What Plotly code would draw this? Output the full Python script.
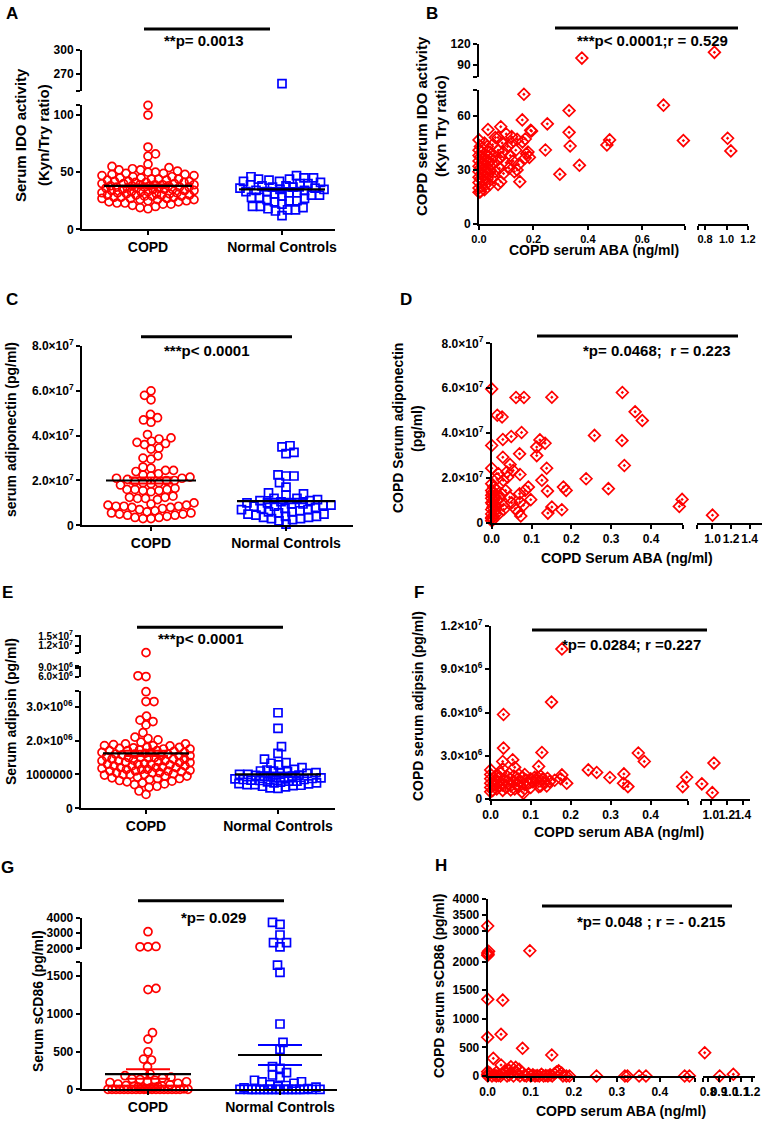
import numpy as np
import plotly.graph_objects as go

W, H = 765, 1122
FONT = "Arial, 'Liberation Sans', sans-serif"
RED, BLUE = "#ff0000", "#0000ff"

# ---------------- values ----------------
groups = ["COPD", "Normal Controls"]

# A: serum IDO activity (Kyn/Try ratio)
ido_copd = [108.5, 100, 72, 66, 64, 57, 55, 54, 53, 52, 52, 51, 50, 50, 49, 49, 48, 48, 47, 47,
            46, 46, 45, 45, 44, 44, 44, 43, 43, 42, 42, 42, 41, 41, 41, 40, 40, 40, 39, 39,
            39, 39, 38, 38, 38, 38, 37, 37, 37, 37, 36, 36, 36, 36, 35, 35, 35, 35, 34, 34,
            34, 33, 33, 33, 32, 32, 32, 31, 31, 31, 30, 30, 30, 30, 29, 29, 29, 28, 28, 28,
            27, 27, 27, 26, 26, 26, 25, 25, 24, 24, 23, 23, 22, 22, 21, 20, 19, 18]
ido_nc = [258, 47, 46, 45, 45, 44, 44, 43, 42, 42, 41, 40, 40, 39, 38, 38, 37, 37, 36, 36,
          35, 35, 34, 34, 33, 33, 32, 32, 31, 30, 30, 29, 28, 28, 27, 26, 25, 25, 24, 22,
          20, 20, 19, 18, 17, 17, 16, 12]
ido_mean = [38, 35]
ido_sem = [1.2, 1.2]

# B: COPD serum ABA (ng/ml) vs IDO activity
b_points = [
    (0.378, 100), (0.887, 108), (0.165, 72), (0.678, 66), (0.331, 63), (0.159, 57.8), (0.251, 55.6),
    (0.08, 54), (0.033, 52.4), (0.193, 51.6), (0.331, 50.9), (0.751, 46.3), (1.01, 47.6), (1.04, 40.6),
    (0.47, 43.9), (0.48, 46.7), (0.335, 43.3), (0.244, 41.1), (0.369, 32.6), (0.297, 27.6), (0.15, 23.5),
    (0.17, 47.2), (0.16, 45.6), (0.17, 36.7), (0.175, 39), (0.1, 50), (0.12, 48.5), (0.07, 48), (0.0, 46.7),
    (0.0, 17.6), (0.08, 23.5), (0.14, 30),
    (0.0, 20), (0.0, 23), (0.0, 26), (0.0, 29), (0.0, 32), (0.0, 35), (0.0, 38), (0.0, 41),
    (0.005, 18), (0.005, 25), (0.005, 31), (0.005, 37), (0.005, 43), (0.01, 21), (0.01, 28), (0.01, 34),
    (0.01, 40), (0.015, 24), (0.015, 30), (0.015, 36), (0.02, 19), (0.02, 27), (0.02, 33), (0.02, 39),
    (0.02, 45), (0.025, 22), (0.025, 29), (0.025, 35), (0.03, 25), (0.03, 31), (0.03, 38), (0.03, 43),
    (0.035, 28), (0.035, 34), (0.04, 22), (0.04, 30), (0.04, 40), (0.045, 36), (0.05, 26), (0.05, 33),
    (0.05, 44), (0.055, 38), (0.06, 29), (0.06, 48), (0.065, 35), (0.07, 22), (0.07, 41), (0.075, 31),
    (0.08, 37), (0.085, 45), (0.09, 28), (0.09, 40), (0.1, 34), (0.105, 43), (0.11, 31), (0.115, 38),
    (0.12, 45), (0.125, 35), (0.13, 29), (0.135, 41), (0.14, 47), (0.145, 33), (0.18, 40), (0.185, 37),
    (0.19, 52),
]

# C: serum adiponectin (x1e7 pg/ml)
adipo_copd = [6.0, 5.8, 5.6, 4.95, 4.8, 4.7, 4.6, 4.05, 3.9, 3.85, 3.75, 3.7, 3.65, 3.6, 3.45, 3.4,
              3.1, 3.0, 2.95, 2.6, 2.55, 2.45, 2.45, 2.4, 2.3, 2.25, 2.2, 2.15, 2.1, 2.1, 2.05, 2.0,
              2.0, 1.95, 1.9, 1.9, 1.85, 1.8, 1.65, 1.6, 1.6, 1.6, 1.55, 1.55, 1.5, 1.3, 1.25, 1.25,
              1.2, 1.2, 1.15, 1.0, 0.95, 0.9, 0.9, 0.85, 0.85, 0.85, 0.8, 0.8, 0.75, 0.7, 0.65, 0.6,
              0.55, 0.55, 0.5, 0.5, 0.45, 0.45, 0.4, 0.35, 0.35, 0.3, 0.3]
adipo_nc = [3.55, 3.5, 3.25, 3.2, 2.25, 2.2, 2.2, 1.9, 1.7, 1.45, 1.4, 1.35, 1.2, 1.2, 1.15, 1.1,
            1.1, 1.05, 1.0, 1.0, 0.95, 0.95, 0.9, 0.9, 0.85, 0.85, 0.8, 0.75, 0.75, 0.7, 0.7, 0.65,
            0.6, 0.6, 0.55, 0.5, 0.5, 0.45, 0.4, 0.4, 0.35, 0.35, 0.3, 0.3, 0.25, 0.2, 0.05]
adipo_mean = [2.0, 1.08]
adipo_sem = [0.13, 0.1]

# D: COPD serum ABA (ng/ml) vs adiponectin (x1e7 pg/ml)
d_points = [
    (0.0, 5.97), (0.061, 5.59), (0.081, 5.59), (0.151, 5.6), (0.328, 5.81), (0.36, 4.95), (0.378, 4.56),
    (0.014, 4.8), (0.026, 4.72), (0.0, 3.45), (0.028, 3.72), (0.049, 3.85), (0.075, 4.03), (0.121, 3.7),
    (0.113, 3.38), (0.134, 3.55), (0.07, 3.08), (0.028, 2.93), (0.113, 3.0), (0.258, 3.9), (0.327, 3.67),
    (0.333, 2.56), (0.046, 2.6), (0.138, 2.44), (0.0, 2.44), (0.017, 2.19), (0.038, 2.27), (0.054, 2.34),
    (0.071, 2.16), (0.0, 1.75), (0.013, 1.97), (0.029, 1.9), (0.04, 2.04), (0.126, 1.9), (0.237, 1.97),
    (0.293, 1.53), (0.18, 1.6), (0.187, 1.45), (0.14, 1.42), (0.092, 1.6), (0.084, 1.45), (0.07, 1.3),
    (0.025, 1.3), (0.0, 1.23), (0.098, 1.04), (0.071, 0.93), (0.029, 0.79), (0.059, 0.64), (0.08, 0.79),
    (0.067, 0.49), (0.073, 0.31), (0.141, 0.44), (0.151, 0.71), (0.176, 0.59), (0.471, 0.74),
    (0.478, 1.05), (1.0, 0.35),
    (0.0, 0.1), (0.0, 0.2), (0.004, 0.3), (0.0, 0.4), (0.006, 0.5), (0.0, 0.6), (0.003, 0.7),
    (0.007, 0.8), (0.0, 0.9), (0.004, 1.0), (0.0, 1.1), (0.006, 1.2), (0.002, 1.35), (0.0, 1.45),
    (0.008, 0.55), (0.002, 0.85), (0.009, 1.15), (0.01, 0.4), (0.012, 0.75), (0.005, 1.6), (0.01, 1.5),
    (0.02, 1.1), (0.035, 1.45), (0.045, 1.15), (0.02, 0.45), (0.03, 0.6), (0.05, 0.9), (0.0, 0.25),
    (0.003, 0.15),
]

# E: serum adipsin (x1e6 pg/ml)
adipsin_copd = [10.0, 6.3, 6.05, 3.44, 3.15, 3.15, 2.72, 2.6, 2.56, 2.46, 2.23, 2.1, 2.06, 2.02, 1.95,
                1.9, 1.88, 1.85, 1.84, 1.8, 1.78, 1.77, 1.75, 1.72, 1.7, 1.7, 1.68, 1.65, 1.65, 1.62,
                1.6, 1.6, 1.58, 1.55, 1.55, 1.52, 1.5, 1.5, 1.48, 1.45, 1.45, 1.42, 1.4, 1.4, 1.38,
                1.35, 1.35, 1.32, 1.3, 1.3, 1.28, 1.25, 1.25, 1.22, 1.2, 1.2, 1.18, 1.15, 1.15, 1.12,
                1.1, 1.1, 1.08, 1.05, 1.05, 1.02, 1.0, 1.0, 0.98, 0.95, 0.95, 0.92, 0.9, 0.88, 0.88,
                0.85, 0.82, 0.8, 0.78, 0.75, 0.72, 0.7, 0.65, 0.62, 0.51, 0.41,
                1.9, 1.85, 1.8, 1.75, 1.7, 1.65, 1.6, 1.55, 1.5, 1.45, 1.4, 1.35, 1.3, 1.25, 1.2,
                1.15, 1.1, 1.05, 1.0]
adipsin_nc = [2.82, 2.36, 1.82, 1.62, 1.45, 1.35, 1.33, 1.28, 1.2, 1.15, 1.13, 1.1, 1.1, 1.08, 1.05,
              1.05, 1.03, 1.0, 1.0, 0.98, 0.97, 0.95, 0.95, 0.93, 0.92, 0.9, 0.9, 0.88, 0.87, 0.85,
              0.85, 0.83, 0.82, 0.8, 0.8, 0.78, 0.77, 0.75, 0.75, 0.73, 0.72, 0.7, 0.7, 0.68, 0.67,
              0.65, 0.63, 0.6, 0.59]
adipsin_mean = [1.62, 1.0]
adipsin_sem = [0.08, 0.06]

# F: COPD serum ABA (ng/ml) vs adipsin (x1e6 pg/ml)
f_points = [
    (0.178, 10.4), (0.152, 6.72), (0.032, 5.86), (0.032, 3.53), (0.03, 2.6), (0.055, 2.72), (0.128, 3.23),
    (0.12, 2.26), (0.369, 3.19), (0.384, 2.6), (0.244, 2.02), (0.265, 1.84), (0.298, 1.49), (0.333, 1.74),
    (0.332, 1.09), (0.343, 0.86), (0.0, 2.02), (0.178, 1.67), (0.19, 1.09), (0.12, 0.86), (0.078, 0.51),
    (0.05, 0.63), (0.147, 1.21), (0.142, 1.44), (0.117, 1.51), (0.49, 1.51), (0.48, 0.86), (0.889, 1.05),
    (1.02, 0.44), (1.04, 2.49),
    (0.0, 0.5), (0.0, 0.8), (0.0, 1.1), (0.0, 1.4), (0.0, 1.7), (0.005, 0.6), (0.008, 1.0), (0.01, 1.3),
    (0.012, 1.6), (0.015, 0.7), (0.018, 1.2), (0.02, 0.9), (0.022, 1.5), (0.025, 1.8), (0.028, 1.0),
    (0.03, 0.6), (0.035, 1.3), (0.038, 0.8), (0.04, 1.6), (0.045, 1.1), (0.048, 1.4), (0.05, 0.9),
    (0.055, 1.2), (0.058, 1.6), (0.06, 0.7), (0.065, 1.0), (0.068, 1.4), (0.07, 1.7), (0.072, 0.9),
    (0.075, 1.2), (0.08, 1.5), (0.082, 0.4), (0.085, 1.0), (0.09, 1.3), (0.095, 1.1), (0.1, 1.4),
    (0.105, 1.2), (0.11, 1.5), (0.115, 1.3), (0.125, 1.6), (0.13, 1.4), (0.135, 1.1), (0.14, 0.9),
    (0.125, 0.9), (0.06, 2.2), (0.03, 2.1), (0.085, 1.7), (0.1, 0.8), (0.16, 1.3), (0.175, 1.4),
]

# G: serum sCD86 (pg/ml)
cd86_copd = [3085, 2100, 2100, 2120, 1336, 1320, 749, 665, 497, 400, 388, 300, 205, 180, 160, 150,
             140, 130, 120, 110, 100, 90, 80, 70, 60, 50, 45, 40, 35, 30, 25, 20, 15, 10, 5,
             0, 0, 0, 0, 0, 0, 0, 0, 0, 0, 0, 0, 0, 0, 0, 0, 0, 0, 0, 0]
cd86_nc = [3700, 3570, 2870, 2370, 2370, 2100, 1644, 1548, 864, 622, 529, 300, 278, 220, 189, 159,
           120, 100, 97, 80, 60, 50, 40, 30, 20, 10,
           0, 0, 0, 0, 0, 0, 0, 0, 0, 0, 0, 0, 0, 0, 0, 0, 0, 0]
cd86_mean = [202, 454]
cd86_sem = [63, 132]

# H: COPD serum ABA (ng/ml) vs sCD86 (pg/ml)
h_points = [
    (0.0, 3150), (0.098, 2190), (0.0, 2110), (0.0, 2150), (0.002, 2180), (0.001, 2130), (0.0, 1341),
    (0.035, 1326), (0.0, 677), (0.031, 729), (0.081, 484), (0.149, 367), (0.013, 309), (0.031, 192),
    (0.054, 163), (0.073, 117), (0.0, 76), (0.253, 0), (0.319, 0), (0.325, 0), (0.352, 0), (0.368, 0),
    (0.458, 0), (0.469, 0), (0.16, 70), (0.172, 50), (0.183, 0), (0.77, 407), (0.906, 0), (1.03, 30),
    (0.0, 0), (0.0, 30), (0.005, 50), (0.01, 0), (0.015, 20), (0.02, 60), (0.025, 10), (0.03, 0),
    (0.035, 40), (0.04, 90), (0.045, 0), (0.05, 20), (0.055, 50), (0.06, 0), (0.065, 80), (0.07, 30),
    (0.075, 0), (0.08, 60), (0.085, 10), (0.09, 0), (0.095, 40), (0.1, 0), (0.105, 20), (0.11, 0),
    (0.115, 10), (0.12, 0), (0.125, 30), (0.13, 0), (0.135, 10), (0.14, 0), (0.145, 20), (0.15, 0),
    (0.155, 40), (0.165, 90), (0.175, 0), (0.19, 0), (0.02, 0), (0.05, 100), (0.065, 150),
]

# ---------------- figure scaffolding ----------------
layout = dict(width=W, height=H, margin=dict(l=0, r=0, t=0, b=0, autoexpand=False),
              paper_bgcolor="white", plot_bgcolor="rgba(0,0,0,0)", showlegend=False,
              font=dict(family=FONT, size=12, color="black"), annotations=[], shapes=[])
traces = []
count = {"x": 0, "y": 0}


def new(kind):
    count[kind] += 1
    return kind if count[kind] == 1 else f"{kind}{count[kind]}"


def akey(name):
    return name[0] + "axis" + name[1:]


def axis_style(vals, text, ends, fs):
    return dict(showline=True, linecolor="black", linewidth=2, ticks="outside", ticklen=4,
                tickwidth=2, tickcolor="black", showgrid=False, zeroline=False, fixedrange=True,
                automargin=False, tickmode="array", tickangle=0, tickvals=list(vals) + list(ends),
                ticktext=list(text) + [""] * len(ends),
                tickfont=dict(family=FONT, size=fs, color="black", weight="bold"))


def add_x(name, l, r, rng, anchor, vals, text, ends=(), fs=12):
    ax = axis_style(vals, text, ends, fs)
    ax.update(domain=[l / W, r / W], range=rng, anchor=anchor)
    layout[akey(name)] = ax


def add_y(name, b, t, rng, anchor, vals, text, ends=(), fs=12):
    ax = axis_style(vals, text, ends, fs)
    ax.update(domain=[1 - b / H, 1 - t / H], range=rng, anchor=anchor)
    layout[akey(name)] = ax


def swarm(vals, ppu, diam, half):
    # place sorted values side by side, closest free slot to the centre (pixel space)
    v = np.sort(np.asarray(vals, float))
    y = v * ppu
    cand = np.arange(-half, half + 1e-9, 0.5)
    xs = []
    for i, yi in enumerate(y):
        if xs:
            d = np.hypot(cand[:, None] - np.array(xs)[None, :], yi - y[:len(xs)][None, :]).min(axis=1)
        else:
            d = np.full(cand.shape, np.inf)
        bias = np.abs(cand) + (0.01 if i % 2 else -0.01) * cand
        free = d >= diam
        if free.any():
            j = int(np.argmin(np.where(free, bias, np.inf)))
        else:
            j = int(np.argmax(d - 0.01 * np.abs(cand)))
        xs.append(cand[j])
    return v, np.array(xs)


def segment_index(v, segs):
    idx = np.full(len(v), -1)
    for k, s in enumerate(segs):
        lo, hi = s["rng"]
        m = (idx < 0) & (v >= lo) & (v <= hi)
        idx[m] = k
    return idx


def dot_panel(L, R, c0, c1, ysegs, series, stats, size=8):
    xn = new("x")
    yns = [new("y") for _ in ysegs]
    ppx = c1 - c0
    add_x(xn, L, R, [(L - c0) / ppx, (R - c0) / ppx], yns[0], [0, 1], groups, fs=14)
    for yn, s in zip(yns, ysegs):
        add_y(yn, s["b"], s["t"], s["rng"], xn, s["vals"], s["text"], s.get("ends", ()), s.get("fs", 12))
    for g, (vals, color, sym, half) in enumerate(series):
        vals = np.asarray(vals, float)
        idx = segment_index(vals, ysegs)
        for k, (yn, s) in enumerate(zip(yns, ysegs)):
            sub = vals[idx == k]
            if not len(sub):
                continue
            ppu = (s["b"] - s["t"]) / (s["rng"][1] - s["rng"][0])
            v, off = swarm(sub, ppu, size * 0.95, half)
            traces.append(go.Scatter(
                x=g + off / ppx, y=v, xaxis=xn, yaxis=yn, mode="markers", cliponaxis=False,
                hoverinfo="skip",
                marker=dict(symbol=sym, size=size, color=color, line=dict(color=color, width=1.7))))
    for g, (mean, sem, hw, color) in enumerate(stats):
        traces.append(go.Scatter(
            x=[g], y=[mean], xaxis=xn, yaxis=yns[0], mode="markers", cliponaxis=False,
            hoverinfo="skip", marker=dict(size=2, opacity=0),
            error_y=dict(type="data", array=[sem], color=color, thickness=2, width=22)))
        traces.append(go.Scatter(
            x=[g - hw / ppx, g + hw / ppx], y=[mean, mean], xaxis=xn, yaxis=yns[0], mode="lines",
            cliponaxis=False, hoverinfo="skip", line=dict(color="black", width=2.2)))


def xy_panel(xsegs, ysegs, pts, size=9, fs=12):
    xns = [new("x") for _ in xsegs]
    yns = [new("y") for _ in ysegs]
    for xn, s in zip(xns, xsegs):
        add_x(xn, s["l"], s["r"], s["rng"], yns[0], s["vals"], s["text"], s.get("ends", ()), fs)
    for yn, s in zip(yns, ysegs):
        add_y(yn, s["b"], s["t"], s["rng"], xns[0], s["vals"], s["text"], s.get("ends", ()))
    xs = np.array([p[0] for p in pts], float)
    ys = np.array([p[1] for p in pts], float)
    ix, iy = segment_index(xs, xsegs), segment_index(ys, ysegs)
    for i, xn in enumerate(xns):
        for j, yn in enumerate(yns):
            m = (ix == i) & (iy == j)
            if m.any():
                traces.append(go.Scatter(
                    x=xs[m], y=ys[m], xaxis=xn, yaxis=yn, mode="markers", cliponaxis=False,
                    hoverinfo="skip",
                    marker=dict(symbol="diamond-open-dot", size=size, color=RED,
                                line=dict(color=RED, width=1.7))))


def text(s, x, y, size=14, angle=0):
    layout["annotations"].append(dict(
        text=s, x=x / W, y=1 - y / H, xref="paper", yref="paper", showarrow=False,
        textangle=angle, xanchor="center", yanchor="middle",
        font=dict(family=FONT, size=size, color="black", weight="bold")))


def sig(y, x0, x1, label, tx, ty):
    layout["shapes"].append(dict(type="line", xref="paper", yref="paper", x0=x0 / W, x1=x1 / W,
                                 y0=1 - y / H, y1=1 - y / H, line=dict(color="black", width=3)))
    text(label, tx, ty, 15)


def sci(m, e):
    return f"{m}×10<sup>{e}</sup>"


# ---------------- A ----------------
dot_panel(82, 335, 148, 282,
          [dict(b=229.3, t=105, rng=[0, 108.8], vals=[0, 50, 100], text=["0", "50", "100"], ends=[108.8]),
           dict(b=90.7, t=50, rng=[249.1, 300], vals=[270, 300], text=["270", "300"], ends=[249.1])],
          [(ido_copd, RED, "circle-open", 46), (ido_nc, BLUE, "square-open", 42)],
          [(ido_mean[0], ido_sem[0], 44, RED), (ido_mean[1], ido_sem[1], 43, BLUE)])

# ---------------- B ----------------
xy_panel([dict(l=479, r=685, rng=[0, 0.757], vals=[0, 0.2, 0.4, 0.6], text=["0.0", "0.2", "0.4", "0.6"], ends=[0.757]),
          dict(l=698.3, r=748, rng=[0.737, 1.2], vals=[0.8, 1.0, 1.2], text=["0.8", "1.0", "1.2"], ends=[0.737])],
         [dict(b=224, t=90, rng=[0, 74.4], vals=[0, 30, 60], text=["0", "30", "60"], ends=[74.4]),
          dict(b=77.3, t=43.7, rng=[73.3, 120], vals=[90, 120], text=["90", "120"], ends=[73.3])],
         b_points, fs=11)

# ---------------- C ----------------
adipo_ticks = [0, 2e7, 4e7, 6e7, 8e7]
adipo_text = ["0", sci("2.0", 7), sci("4.0", 7), sci("6.0", 7), sci("8.0", 7)]
dot_panel(82, 353, 151, 286,
          [dict(b=525.3, t=346, rng=[0, 8e7], vals=adipo_ticks, text=adipo_text)],
          [(np.array(adipo_copd) * 1e7, RED, "circle-open", 45),
           (np.array(adipo_nc) * 1e7, BLUE, "square-open", 45)],
          [(adipo_mean[0] * 1e7, adipo_sem[0] * 1e7, 45, RED),
           (adipo_mean[1] * 1e7, adipo_sem[1] * 1e7, 49, BLUE)])

# ---------------- D ----------------
xy_panel([dict(l=491.7, r=683.3, rng=[0, 0.481], vals=[0, 0.1, 0.2, 0.3, 0.4],
               text=["0.0", "0.1", "0.2", "0.3", "0.4"], ends=[0.481]),
          dict(l=696.7, r=761.7, rng=[0.83, 1.53], vals=[1.0, 1.2, 1.4], text=["1.0", "1.2", "1.4"], ends=[0.83])],
         [dict(b=523, t=343.3, rng=[0, 8e7], vals=adipo_ticks, text=adipo_text)],
         [(x, y * 1e7) for x, y in d_points])

# ---------------- E ----------------
dot_panel(81, 335, 146, 278,
          [dict(b=808.3, t=690.7, rng=[0, 3.47e6], vals=[0, 1e6, 2e6, 3e6],
                text=["0", "1000000", sci("2.0", "06"), sci("3.0", "06")], ends=[3.47e6]),
           dict(b=677.3, t=666, rng=[5.8e6, 9.57e6], vals=[6e6, 9e6],
                text=[sci("6.0", 6), sci("9.0", 6)], ends=[5.8e6, 9.57e6], fs=10),
           dict(b=653.3, t=635, rng=[0.98e7, 1.53e7], vals=[1.2e7, 1.5e7],
                text=[sci("1.2", 7), sci("1.5", 7)], ends=[0.98e7], fs=10)],
          [(np.array(adipsin_copd) * 1e6, RED, "circle-open", 44),
           (np.array(adipsin_nc) * 1e6, BLUE, "square-open", 43)],
          [(adipsin_mean[0] * 1e6, adipsin_sem[0] * 1e6, 43, RED),
           (adipsin_mean[1] * 1e6, adipsin_sem[1] * 1e6, 43, BLUE)])

# ---------------- F ----------------
xy_panel([dict(l=490.7, r=688.3, rng=[0, 0.494], vals=[0, 0.1, 0.2, 0.3, 0.4],
               text=["0.0", "0.1", "0.2", "0.3", "0.4"], ends=[0.494]),
          dict(l=700.7, r=750, rng=[0.875, 1.49], vals=[1.0, 1.2, 1.4], text=["1.0", "1.2", "1.4"], ends=[0.875])],
         [dict(b=799, t=626, rng=[0, 1.2e7], vals=[0, 3e6, 6e6, 9e6, 1.2e7],
               text=["0", sci("3.0", 6), sci("6.0", 6), sci("9.0", 6), sci("1.2", 7)])],
         [(x, y * 1e6) for x, y in f_points])

# ---------------- G ----------------
dot_panel(81.7, 336.7, 148, 280,
          [dict(b=1089.3, t=962.3, rng=[0, 1681], vals=[0, 500, 1000, 1500],
                text=["0", "500", "1000", "1500"], ends=[1681]),
           dict(b=949.3, t=917.7, rng=[1935, 4000], vals=[2000, 3000, 4000],
                text=["2000", "3000", "4000"], ends=[1935])],
          [(cd86_copd, RED, "circle-open", 40), (cd86_nc, BLUE, "square-open", 40)],
          [(cd86_mean[0], cd86_sem[0], 43, RED), (cd86_mean[1], cd86_sem[1], 42, BLUE)])

# ---------------- H ----------------
xy_panel([dict(l=487.7, r=695, rng=[0, 0.482], vals=[0, 0.1, 0.2, 0.3, 0.4],
               text=["0.0", "0.1", "0.2", "0.3", "0.4"], ends=[0.482]),
          dict(l=703.3, r=755, rng=[0.757, 1.227], vals=[0.8, 0.9, 1.0, 1.1, 1.2],
               text=["0.8", "0.9", "1.0", "1.1", "1.2"], ends=[0.757])],
         [dict(b=1076, t=947.3, rng=[0, 2250], vals=[0, 500, 1000, 1500, 2000],
               text=["0", "500", "1000", "1500", "2000"]),
          dict(b=947.3, t=899, rng=[2480, 4000], vals=[3000, 3500, 4000], text=["3000", "3500", "4000"])],
         h_points)

# ---------------- text ----------------
for letter, x, y in [("A", 12, 14), ("B", 432, 13), ("C", 12, 299), ("D", 406, 299),
                     ("E", 7, 592), ("F", 419, 592), ("G", 8, 868), ("H", 441, 865)]:
    text(letter, x, y, 17)

sig(29, 144, 270, "**p= 0.0013", 204, 41)
sig(28, 555, 738, "***p< 0.0001;r = 0.529", 652, 41)
sig(336.7, 141, 292, "***p< 0.0001", 206, 350)
sig(336, 537, 738, "*p= 0.0468;  r = 0.223", 657, 350)
sig(627.3, 137, 283, "***p< 0.0001", 200, 639)
sig(630, 532, 707, "*p= 0.0284; r =0.227", 631, 644)
sig(900.7, 138, 284, "*p= 0.029", 213, 917)
sig(906, 542, 732, "*p= 0.048 ; r = - 0.215", 651, 921)

text("Serum IDO activity", 20, 135, 15, -90)
text("(Kyn/Try ratio)", 43, 135, 15, -90)
text("COPD serum IDO activity", 421, 126, 15, -90)
text("(Kyn Try ratio)", 440, 126, 15, -90)
text("COPD serum ABA (ng/ml)", 594, 250, 14)
text("serum adiponectin (pg/ml)", 11, 430, 14, -90)
text("COPD Serum adiponectin", 398, 428, 14, -90)
text("(pg/ml)", 417, 428, 14, -90)
text("COPD Serum ABA (ng/ml)", 627, 558, 14)
text("Serum adipsin (pg/ml)", 11, 712, 14, -90)
text("COPD serum adipsin (pg/ml)", 418, 706, 14, -90)
text("COPD serum ABA (ng/ml)", 619, 832, 14)
text("Serum sCD86 (pg/ml)", 38, 1001, 14, -90)
text("COPD serum sCD86 (pg/ml)", 439, 986, 14, -90)
text("COPD serum ABA (ng/ml)", 621, 1111, 14)

fig = go.Figure(data=traces, layout=layout)
fig.write_html("out.html", config={"displayModeBar": False},
               post_script="document.body.style.margin='0';document.body.style.padding='0';")
